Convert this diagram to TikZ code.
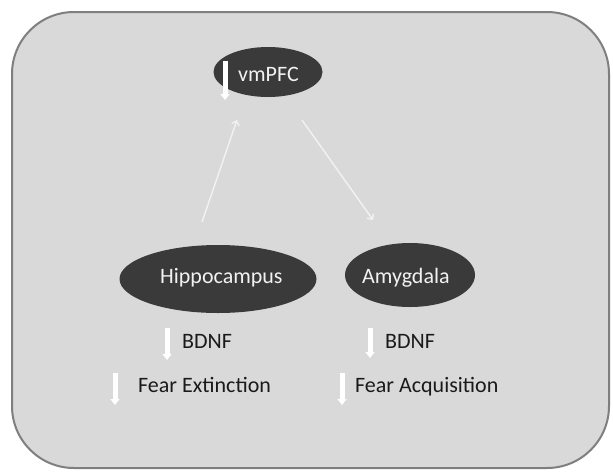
\documentclass[tikz,border=0pt]{standalone}
\usepackage{fontspec}
\setmainfont{Carlito}
\usetikzlibrary{shapes.geometric,arrows.meta}
\definecolor{panel}{HTML}{D9D9D9}
\definecolor{panelline}{HTML}{7F7F7F}
\definecolor{region}{HTML}{3A3A3A}
\definecolor{lighttext}{HTML}{F2F2F2}
\definecolor{darktext}{HTML}{1A1A1A}
\tikzset{
  regionshape/.style={ellipse, fill=region, draw=none, inner sep=0pt},
  regionlabel/.style={anchor=base west, inner sep=0pt, text=lighttext, font=\fontsize{22}{24}\selectfont},
  plainlabel/.style={anchor=base west, inner sep=0pt, text=darktext, font=\fontsize{22}{24}\selectfont},
  downmark/.style={draw=white, line width=5pt, -{Triangle[width=9pt,length=6pt]}},
  thinlink/.style={draw=lighttext, line width=1.4pt, -{Straight Barb[length=4pt,width=8pt]}}
}
\begin{document}
\begin{tikzpicture}[x=1pt,y=-1pt]
\useasboundingbox (0,0) rectangle (613,472);
\fill[white] (0,0) rectangle (613,472);
\draw[panelline, fill=panel, line width=2pt, rounded corners=62pt] (12,12) rectangle (609,468);

% regions
\node[regionshape, minimum width=109pt, minimum height=50pt] (vm) at (268,72) {};
\node[regionshape, minimum width=197pt, minimum height=68pt] (hip) at (218,279) {};
\node[regionshape, minimum width=130pt, minimum height=64pt] (amy) at (410,275) {};

\node[regionlabel] (vmtext) at (238,81) {vmPFC};
\node[regionlabel] (hiptext) at (160,283) {Hippocampus};
\node[regionlabel] (amytext) at (362,283) {Amygdala};

% connectors
\coordinate (hipout) at (202,222);
\coordinate (vmin) at (237,120);
\coordinate (vmout) at (302,120);
\coordinate (amyin) at (373,220);
\draw[thinlink] (hipout) -- (vmin);
\draw[thinlink] (vmout) -- (amyin);

% down marks
\coordinate (m0s) at (225,61);  \coordinate (m0e) at (225,100);
\coordinate (m1s) at (167,328); \coordinate (m1e) at (167,360);
\coordinate (m2s) at (115,373); \coordinate (m2e) at (115,405);
\coordinate (m3s) at (370,328); \coordinate (m3e) at (370,358);
\coordinate (m4s) at (342,373); \coordinate (m4e) at (342,405);
\draw[downmark] (m0s) -- (m0e);
\draw[downmark] (m1s) -- (m1e);
\draw[downmark] (m2s) -- (m2e);
\draw[downmark] (m3s) -- (m3e);
\draw[downmark] (m4s) -- (m4e);

% labels
\node[plainlabel] (bdnfl) at (182,348) {BDNF};
\node[plainlabel] (fearl) at (138,392) {Fear Extinction};
\node[plainlabel] (bdnfr) at (385,348) {BDNF};
\node[plainlabel] (fearr) at (355,392) {Fear Acquisition};
\end{tikzpicture}
\end{document}
